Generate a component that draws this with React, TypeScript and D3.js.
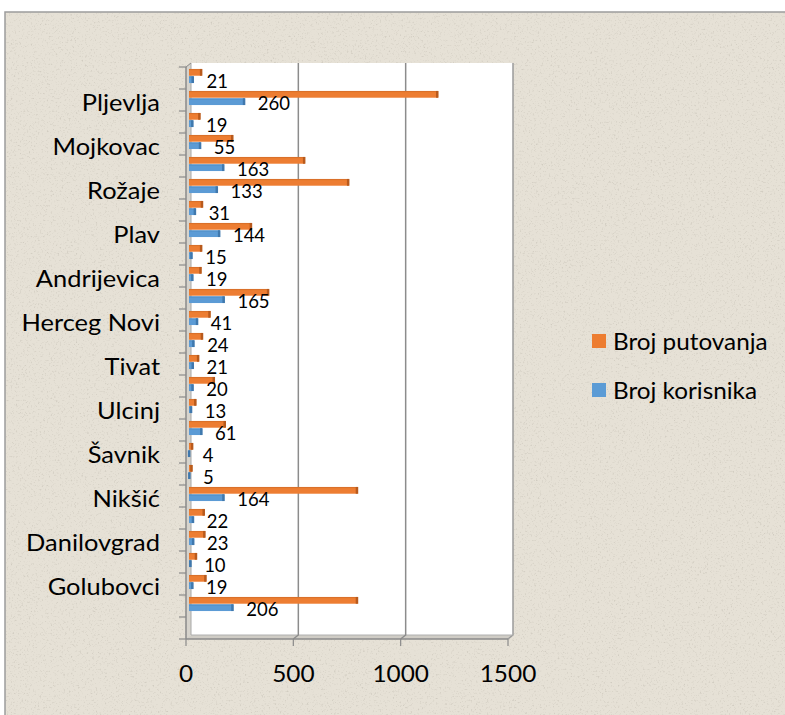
import React from "react";
import * as d3 from "d3";

// Categories top to bottom (only every other name is shown on the axis)
const categories: string[] = [
  "", "Pljevlja", "", "Mojkovac", "", "Rožaje", "", "Plav", "", "Andrijevica",
  "", "Herceg Novi", "", "Tivat", "", "Ulcinj", "", "Šavnik", "", "Nikšić",
  "", "Danilovgrad", "", "Golubovci", "", "",
];
const brojPutovanja: (number | null)[] = [
  60, 1160, 52, 205, 540, 745, 64, 292, 60, 57, 372, 99, 64, 46, 119, 33, 170, 18, 15, 786,
  72, 75, 36, 80, 786, null,
];
const brojKorisnika: (number | null)[] = [
  21, 260, 19, 55, 163, 133, 31, 144, 15, 19, 165, 41, 24, 21, 20, 13, 61, 4, 5, 164,
  22, 23, 10, 19, 206, null,
];
const xTicks: number[] = [0, 500, 1000, 1500];
const gridTicks: number[] = [500, 1000];
const seriesNames: string[] = ["Broj putovanja", "Broj korisnika"];
const seriesColors: string[] = ["#ED7D31", "#5B9BD5"];
const seriesDark: string[] = ["#B85A1C", "#3F78AD"];

const FONT = "Lato, 'Open Sans', sans-serif";

export default function App() {
  const W = 785;
  const H = 715;
  // depth offsets for the 3D look
  const dx = 5;
  const dy = -4;
  const frontLeft = 186;
  const frontRight = 508;
  const frontTop = 67;
  const frontBottom = 639;

  const xFront = d3.scaleLinear().domain([0, 1500]).range([frontLeft, frontRight]);
  const xBack = d3.scaleLinear().domain([0, 1500]).range([frontLeft + dx, frontRight + dx]);
  const xBar = d3.scaleLinear().domain([0, 1500]).range([frontLeft + 3, frontRight + 3]);

  const idx = categories.map((_, i) => i);
  const yFront = d3.scaleBand<number>().domain(idx).range([frontTop, frontBottom]);
  const yBar = d3
    .scaleBand<number>()
    .domain(idx)
    .range([frontTop - 2, frontBottom - 2])
    .paddingInner(0.36)
    .paddingOuter(0.18);
  const ySub = d3.scaleBand<number>().domain([0, 1]).range([0, yBar.bandwidth()]).paddingInner(0.08);

  const series = [brojPutovanja, brojKorisnika];

  const backTop = frontTop + dy;
  const backBottom = frontBottom + dy;
  const backLeft = xBack(0);
  const backRight = xBack(1500);

  const tickYs = d3.range(categories.length + 1).map((i) =>
    i < categories.length ? (yFront(i) as number) : frontBottom
  );

  return (
    <svg
      width={W}
      height={H}
      style={{ position: "absolute", left: 0, top: 0, display: "block" }}
      fontFamily={FONT}
    >
      <defs>
        <filter id="speckle" x="0" y="0" width="100%" height="100%">
          <feTurbulence type="fractalNoise" baseFrequency="0.55" numOctaves="3" seed="7" result="n" />
          <feColorMatrix
            in="n"
            type="matrix"
            values="0 0 0 0 0.45  0 0 0 0 0.42  0 0 0 0 0.36  3.2 0 0 0 -1.8"
          />
        </filter>
        <filter id="soft" x="-5%" y="-20%" width="110%" height="140%">
          <feGaussianBlur stdDeviation="0.5" />
        </filter>
      </defs>
      <rect x={0} y={0} width={W} height={H} fill="#ffffff" />
      {/* textured chart area */}
      <rect x={5} y={12} width={W + 20} height={H + 20} fill="#E6E1D6" stroke="#9C9C9C" strokeWidth={1.5} />
      <rect x={6} y={13} width={W} height={H} filter="url(#speckle)" opacity={0.4} />

      {/* back wall */}
      <rect x={backLeft} y={backTop} width={backRight - backLeft} height={backBottom - backTop} fill="#ffffff" />
      {/* left side wall */}
      <polygon
        points={`${frontLeft},${frontTop} ${backLeft},${backTop} ${backLeft},${backBottom} ${frontLeft},${frontBottom}`}
        fill="#D6D3CC"
      />
      {/* floor */}
      <polygon
        points={`${frontLeft},${frontBottom} ${backLeft},${backBottom} ${backRight},${backBottom} ${frontRight},${frontBottom}`}
        fill="#CFCCC5"
      />
      {/* wall border right / bottom */}
      <path
        d={`M${backRight},${backTop} V${backBottom} L${frontRight},${frontBottom}`}
        fill="none"
        stroke="#9A9A9A"
        strokeWidth={1.5}
      />
      <line x1={backLeft} x2={backRight} y1={backBottom} y2={backBottom} stroke="#B0B0B0" strokeWidth={1} />
      <line x1={backLeft} x2={backLeft} y1={backTop} y2={backBottom} stroke="#A8A8A8" strokeWidth={1} />

      {/* gridlines */}
      {gridTicks.map((t) => (
        <path
          key={t}
          d={`M${xBack(t)},${backTop} V${backBottom} L${xFront(t)},${frontBottom}`}
          fill="none"
          stroke="#8C8C8C"
          strokeWidth={1.5}
        />
      ))}

      {/* bars */}
      {idx.map((i) => (
        <g key={i}>
          {series.map((vals, s) => {
            const v = vals[i];
            if (v == null) return null;
            const y0 = (yBar(i) as number) + (ySub(s) as number);
            const h = ySub.bandwidth();
            const x0 = xBar(0);
            const x1 = xBar(v);
            return (
              <g key={s} filter="url(#soft)">
                <rect x={x0} y={y0} width={Math.max(0, x1 - x0)} height={h} fill={seriesColors[s]} />
                <rect x={x0} y={y0} width={Math.max(0, x1 - x0)} height={1.2} fill={seriesDark[s]} opacity={0.35} />
                <rect x={x1 - 2} y={y0} width={2.5} height={h} fill={seriesDark[s]} />
              </g>
            );
          })}
        </g>
      ))}

      {/* y axis */}
      <line x1={frontLeft} x2={frontLeft} y1={frontTop} y2={frontBottom} stroke="#8A8A8A" strokeWidth={1.5} />
      <line x1={frontLeft} x2={backLeft} y1={frontTop} y2={backTop} stroke="#8A8A8A" strokeWidth={1} />
      {tickYs.map((y, i) => (
        <line key={i} x1={frontLeft - 7} x2={frontLeft} y1={y} y2={y} stroke="#8A8A8A" strokeWidth={1.2} />
      ))}
      {/* x axis */}
      <line x1={frontLeft} x2={frontRight} y1={frontBottom} y2={frontBottom} stroke="#8A8A8A" strokeWidth={1.5} />
      {xTicks.map((t) => (
        <line key={t} x1={xFront(t)} x2={xFront(t)} y1={frontBottom} y2={frontBottom + 7} stroke="#8A8A8A" strokeWidth={1.2} />
      ))}
      {xTicks.map((t) => (
        <text
          key={t}
          transform={`translate(${xFront(t)}, 673) scale(1.06, 1)`}
          textAnchor="middle"
          dominantBaseline="central"
          fontSize={23}
          fill="#000"
        >
          {t}
        </text>
      ))}

      {/* category labels */}
      {idx.map((i) =>
        categories[i] ? (
          <text
            key={i}
            transform={`translate(160, ${(yFront(i) as number) + yFront.bandwidth() / 2 + 2}) scale(1.13, 1)`}
            textAnchor="end"
            dominantBaseline="central"
            fontSize={22.5}
            fill="#000"
          >
            {categories[i]}
          </text>
        ) : null
      )}

      {/* data labels for Broj korisnika */}
      {idx.map((i) => {
        const v = brojKorisnika[i];
        if (v == null) return null;
        const y0 = (yBar(i) as number) + (ySub(1) as number) + ySub.bandwidth() / 2;
        return (
          <text
            key={i}
            x={xBar(v) + 13}
            y={y0 + 1}
            dominantBaseline="central"
            fontSize={18.5}
            fill="#000"
          >
            {v}
          </text>
        );
      })}

      {/* legend */}
      {seriesNames.map((name, s) => (
        <g key={name} transform={`translate(592, ${334 + s * 49})`}>
          <rect x={0} y={0} width={14} height={14} fill={seriesColors[s]} />
          <text
            transform="translate(21, 7) scale(1.08, 1)"
            dominantBaseline="central"
            fontSize={22.5}
            fill="#000"
          >
            {name}
          </text>
        </g>
      ))}
    </svg>
  );
}
